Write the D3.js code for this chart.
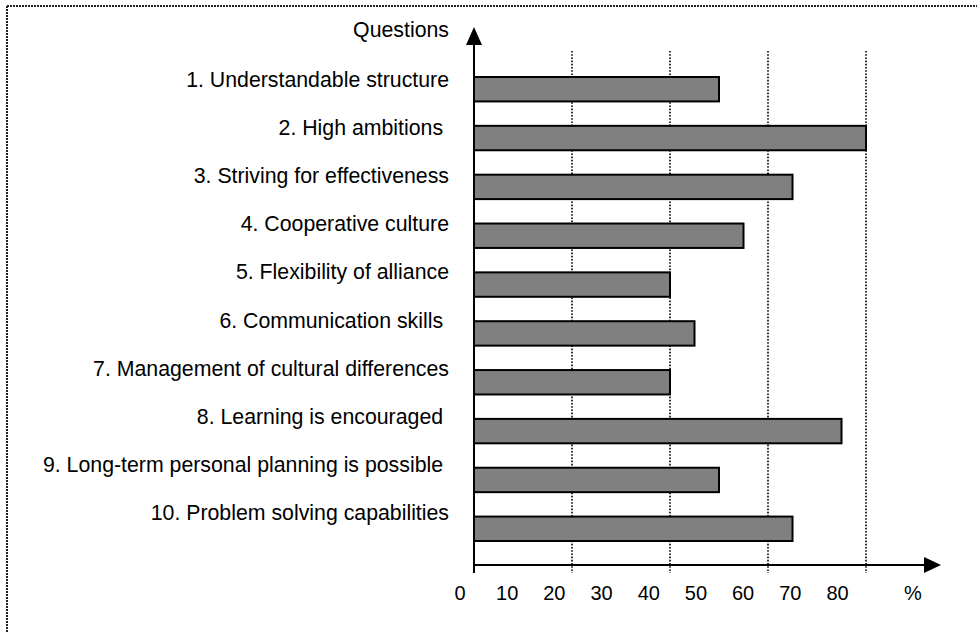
<!DOCTYPE html>
<html>
<head>
<meta charset="utf-8">
<script src="https://cdn.jsdelivr.net/npm/d3@7"></script>
<style>
  html, body { margin: 0; padding: 0; background: #fff; }
  svg { display: block; font-family: "Liberation Sans", Arial, sans-serif; }
  text { white-space: pre; }
</style>
</head>
<body>
<svg id="chart" width="977" height="633"></svg>
<script>
// ---- data ----
const categories = [
  "1. Understandable structure",
  "2. High ambitions ",
  "3. Striving for effectiveness",
  "4. Cooperative culture",
  "5. Flexibility of alliance",
  "6. Communication skills ",
  "7. Management of cultural differences",
  "8. Learning is encouraged ",
  "9. Long-term personal planning is possible ",
  "10. Problem solving capabilities"
];
const values = [50, 80, 65, 55, 40, 45, 40, 75, 50, 65];
const gridValues = [20, 40, 60, 80];
const tickLabels = ["0", "10", "20", "30", "40", "50", "60", "70", "80"];
const unitLabel = "%";
const yTitle = "Questions";

// ---- drawing ----
const svg = d3.select("#chart");

// outer dotted frame (top and left visible)
svg.append("line").attr("x1", 7).attr("y1", 6).attr("x2", 977).attr("y2", 6)
  .attr("stroke", "#222").attr("stroke-width", 2).attr("stroke-dasharray", "2,1");
svg.append("line").attr("x1", 7).attr("y1", 6).attr("x2", 7).attr("y2", 633)
  .attr("stroke", "#222").attr("stroke-width", 2).attr("stroke-dasharray", "2,1");

const x = d3.scaleLinear().domain([0, 80]).range([474, 866]);
const y = d3.scaleBand().domain(categories).range([77, 541]).paddingInner(0.5).paddingOuter(0);
const yLabel = d3.scalePoint().domain(categories).range([87, 520]);
const tickPos = d3.scaleLinear().domain([0, 80]).range([460, 837.5]);

// gridlines
svg.append("g").selectAll("line").data(gridValues).join("line")
  .attr("x1", d => x(d)).attr("x2", d => x(d))
  .attr("y1", 51).attr("y2", 573)
  .attr("stroke", "#000").attr("stroke-width", 1.6).attr("stroke-dasharray", "1.6,1.6");

// bars
svg.append("g").selectAll("rect").data(categories).join("rect")
  .attr("x", x(0))
  .attr("y", d => y(d))
  .attr("width", (d, i) => x(values[i]) - x(0))
  .attr("height", y.bandwidth())
  .attr("fill", "#808080")
  .attr("stroke", "#000")
  .attr("stroke-width", 2);

// axes
svg.append("line").attr("x1", x(0)).attr("x2", x(0)).attr("y1", 573).attr("y2", 42)
  .attr("stroke", "#000").attr("stroke-width", 2);
svg.append("path").attr("d", `M${x(0)},27 L${x(0) - 8},45 L${x(0) + 8},45 Z`).attr("fill", "#000");
svg.append("line").attr("x1", x(0)).attr("x2", 927).attr("y1", 565).attr("y2", 565)
  .attr("stroke", "#000").attr("stroke-width", 2);
svg.append("path").attr("d", `M941,565 L924,557 L924,573 Z`).attr("fill", "#000");

// category labels
svg.append("g").selectAll("text").data(categories).join("text")
  .attr("x", 449)
  .attr("y", d => yLabel(d))
  .attr("text-anchor", "end")
  .attr("font-size", 21.3)
  .attr("fill", "#000")
  .text(d => d);

// y title
svg.append("text").attr("x", 449).attr("y", 37).attr("text-anchor", "end")
  .attr("font-size", 21.3).attr("fill", "#000").text(yTitle);

// tick labels
svg.append("g").selectAll("text").data(tickLabels).join("text")
  .attr("x", d => tickPos(+d))
  .attr("y", 600)
  .attr("text-anchor", "middle")
  .attr("font-size", 20)
  .attr("fill", "#000")
  .text(d => d);
svg.append("text").attr("x", tickPos(96)).attr("y", 600).attr("text-anchor", "middle")
  .attr("font-size", 20).attr("fill", "#000").text(unitLabel);
</script>
</body>
</html>
